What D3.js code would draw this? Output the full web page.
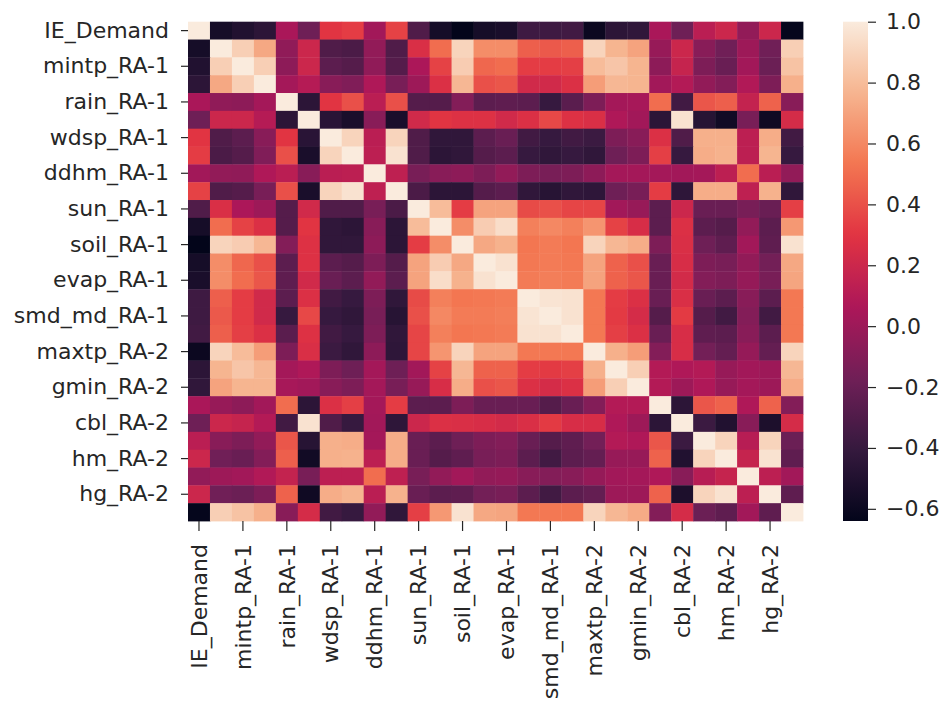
<!DOCTYPE html>
<html lang="en">
<head>
    <meta charset="UTF-8">
    <title>Correlation Heatmap</title>
    <style>
        body {
            margin: 0;
            background-color: #fff;
        }

        svg {
            display: block;
        }

        .tick text {
            font-family: "DejaVu Sans", sans-serif;
            font-size: 22px;
            fill: #262626;
        }

        .tick line {
            stroke: #262626;
            stroke-width: 1.2px;
        }
    </style>
</head>
<body>
    <svg id="chart" width="939" height="702"></svg>

    <script src="https://d3js.org/d3.v7.min.js"></script>
    <script>
        const labels = [
            "IE_Demand", "maxtp_RA-1", "mintp_RA-1", "gmin_RA-1", "rain_RA-1", "cbl_RA-1",
            "wdsp_RA-1", "hm_RA-1", "ddhm_RA-1", "hg_RA-1", "sun_RA-1", "glorad_RA-1",
            "soil_RA-1", "pe_RA-1", "evap_RA-1", "smd_wd_RA-1", "smd_md_RA-1", "smd_pd_RA-1",
            "maxtp_RA-2", "mintp_RA-2", "gmin_RA-2", "rain_RA-2", "cbl_RA-2", "wdsp_RA-2",
            "hm_RA-2", "ddhm_RA-2", "hg_RA-2", "soil_RA-2"
        ];

        // correlation matrix, rows/cols in the order of labels
        const corr = [
            [1.00, -0.55, -0.50, -0.45, 0.05, -0.18, 0.30, 0.33, 0.02, 0.35, -0.30, -0.55, -0.64, -0.55, -0.53, -0.37, -0.37, -0.36, -0.60, -0.45, -0.43, 0.05, -0.18, 0.12, 0.20, -0.04, 0.20, -0.63],
            [-0.55, 1.00, 0.88, 0.72, -0.05, 0.20, -0.30, -0.32, -0.04, -0.30, 0.26, 0.50, 0.90, 0.62, 0.62, 0.45, 0.43, 0.45, 0.90, 0.77, 0.70, -0.02, 0.20, -0.08, -0.17, 0.00, -0.17, 0.88],
            [-0.50, 0.88, 1.00, 0.88, -0.06, 0.20, -0.25, -0.28, -0.05, -0.28, 0.06, 0.35, 0.87, 0.48, 0.50, 0.33, 0.33, 0.34, 0.80, 0.84, 0.77, -0.06, 0.17, -0.12, -0.20, 0.02, -0.19, 0.83],
            [-0.45, 0.72, 0.88, 1.00, 0.03, 0.10, -0.08, -0.11, 0.07, -0.14, 0.00, 0.27, 0.78, 0.40, 0.42, 0.22, 0.22, 0.27, 0.68, 0.78, 0.77, 0.02, 0.09, -0.04, -0.10, 0.08, -0.12, 0.75],
            [0.05, -0.05, -0.06, 0.03, 1.00, -0.45, 0.30, 0.40, 0.12, 0.40, -0.28, -0.28, -0.10, -0.25, -0.24, -0.25, -0.40, -0.26, -0.12, 0.03, 0.04, 0.50, -0.36, 0.42, 0.45, 0.16, 0.46, -0.08],
            [-0.18, 0.20, 0.20, 0.10, -0.45, 1.00, -0.46, -0.53, -0.08, -0.53, 0.22, 0.30, 0.28, 0.28, 0.22, 0.27, 0.37, 0.28, 0.26, 0.07, 0.02, -0.45, 0.96, -0.47, -0.57, -0.14, -0.58, 0.24],
            [0.30, -0.30, -0.25, -0.08, 0.30, -0.46, 1.00, 0.90, 0.12, 0.90, -0.30, -0.43, -0.43, -0.25, -0.20, -0.36, -0.40, -0.36, -0.38, -0.12, -0.08, 0.27, -0.30, 0.75, 0.75, 0.13, 0.74, -0.36],
            [0.33, -0.32, -0.28, -0.11, 0.40, -0.53, 0.90, 1.00, 0.13, 0.96, -0.30, -0.45, -0.43, -0.28, -0.25, -0.40, -0.43, -0.40, -0.43, -0.18, -0.12, 0.34, -0.40, 0.74, 0.76, 0.13, 0.77, -0.40],
            [0.02, -0.04, -0.05, 0.07, 0.12, -0.08, 0.12, 0.13, 1.00, 0.14, -0.14, -0.08, -0.06, -0.12, -0.04, -0.12, -0.14, -0.12, -0.06, 0.03, 0.03, 0.03, 0.02, 0.03, 0.13, 0.50, 0.12, -0.04],
            [0.35, -0.30, -0.28, -0.14, 0.40, -0.53, 0.90, 0.96, 0.14, 1.00, -0.32, -0.45, -0.45, -0.28, -0.25, -0.43, -0.47, -0.43, -0.44, -0.18, -0.14, 0.33, -0.44, 0.74, 0.74, 0.14, 0.76, -0.43],
            [-0.30, 0.26, 0.06, 0.00, -0.28, 0.22, -0.30, -0.30, -0.14, -0.32, 1.00, 0.80, 0.33, 0.70, 0.70, 0.38, 0.40, 0.36, 0.36, 0.02, -0.02, -0.25, 0.20, -0.20, -0.20, -0.14, -0.20, 0.34],
            [-0.55, 0.50, 0.35, 0.27, -0.28, 0.30, -0.43, -0.45, -0.08, -0.45, 0.80, 1.00, 0.62, 0.87, 0.94, 0.57, 0.60, 0.57, 0.65, 0.35, 0.25, -0.25, 0.27, -0.25, -0.28, -0.04, -0.25, 0.66],
            [-0.64, 0.90, 0.87, 0.78, -0.10, 0.28, -0.43, -0.43, -0.06, -0.45, 0.33, 0.62, 1.00, 0.72, 0.76, 0.53, 0.55, 0.53, 0.90, 0.78, 0.74, -0.12, 0.26, -0.18, -0.24, 0.02, -0.24, 0.96],
            [-0.55, 0.62, 0.48, 0.40, -0.25, 0.28, -0.25, -0.28, -0.12, -0.28, 0.70, 0.87, 0.72, 1.00, 0.96, 0.54, 0.55, 0.54, 0.70, 0.46, 0.40, -0.20, 0.25, -0.12, -0.14, -0.04, -0.16, 0.72],
            [-0.53, 0.62, 0.50, 0.42, -0.24, 0.22, -0.20, -0.25, -0.04, -0.25, 0.70, 0.94, 0.76, 0.96, 1.00, 0.55, 0.56, 0.55, 0.70, 0.46, 0.42, -0.20, 0.23, -0.10, -0.12, -0.03, -0.14, 0.71],
            [-0.37, 0.45, 0.33, 0.22, -0.25, 0.27, -0.36, -0.40, -0.12, -0.43, 0.38, 0.57, 0.53, 0.54, 0.55, 1.00, 0.97, 0.96, 0.54, 0.33, 0.27, -0.20, 0.26, -0.20, -0.25, -0.08, -0.25, 0.54],
            [-0.37, 0.43, 0.33, 0.22, -0.40, 0.37, -0.40, -0.43, -0.14, -0.47, 0.40, 0.60, 0.55, 0.55, 0.56, 0.97, 1.00, 0.96, 0.54, 0.32, 0.24, -0.28, 0.32, -0.28, -0.36, -0.10, -0.36, 0.54],
            [-0.36, 0.45, 0.34, 0.27, -0.26, 0.28, -0.36, -0.40, -0.12, -0.43, 0.36, 0.57, 0.53, 0.54, 0.55, 0.96, 0.96, 1.00, 0.54, 0.34, 0.27, -0.20, 0.25, -0.24, -0.25, -0.08, -0.25, 0.54],
            [-0.60, 0.90, 0.80, 0.68, -0.12, 0.26, -0.38, -0.43, -0.06, -0.44, 0.36, 0.65, 0.90, 0.70, 0.70, 0.54, 0.54, 0.54, 1.00, 0.75, 0.68, -0.10, 0.25, -0.16, -0.22, -0.03, -0.22, 0.90],
            [-0.45, 0.77, 0.84, 0.78, 0.03, 0.07, -0.12, -0.18, 0.03, -0.18, 0.02, 0.35, 0.78, 0.46, 0.46, 0.33, 0.32, 0.34, 0.75, 1.00, 0.88, 0.09, 0.07, 0.09, -0.02, 0.02, 0.00, 0.78],
            [-0.43, 0.70, 0.77, 0.77, 0.04, 0.02, -0.08, -0.12, 0.03, -0.14, -0.02, 0.25, 0.74, 0.40, 0.42, 0.27, 0.24, 0.27, 0.68, 0.88, 1.00, 0.09, 0.00, 0.07, -0.02, 0.03, 0.00, 0.73],
            [0.05, -0.02, -0.06, 0.02, 0.50, -0.45, 0.27, 0.34, 0.03, 0.33, -0.25, -0.25, -0.12, -0.20, -0.20, -0.20, -0.28, -0.20, -0.10, 0.09, 0.09, 1.00, -0.45, 0.42, 0.46, 0.07, 0.46, -0.10],
            [-0.18, 0.20, 0.17, 0.09, -0.36, 0.96, -0.30, -0.40, 0.02, -0.44, 0.20, 0.27, 0.26, 0.25, 0.23, 0.26, 0.32, 0.25, 0.25, 0.07, 0.00, -0.45, 1.00, -0.38, -0.50, -0.08, -0.52, 0.24],
            [0.12, -0.08, -0.12, -0.04, 0.42, -0.47, 0.75, 0.74, 0.03, 0.74, -0.20, -0.25, -0.18, -0.12, -0.10, -0.20, -0.28, -0.24, -0.16, 0.09, 0.07, 0.42, -0.38, 1.00, 0.90, 0.11, 0.90, -0.19],
            [0.20, -0.17, -0.20, -0.10, 0.45, -0.57, 0.75, 0.76, 0.13, 0.74, -0.20, -0.28, -0.24, -0.14, -0.12, -0.25, -0.36, -0.25, -0.22, -0.02, -0.02, 0.46, -0.50, 0.90, 1.00, 0.17, 0.96, -0.24],
            [-0.04, 0.00, 0.02, 0.08, 0.16, -0.14, 0.13, 0.13, 0.50, 0.14, -0.14, -0.04, 0.02, -0.04, -0.03, -0.08, -0.10, -0.08, -0.03, 0.02, 0.03, 0.07, -0.08, 0.11, 0.17, 1.00, 0.13, 0.02],
            [0.20, -0.17, -0.19, -0.12, 0.46, -0.58, 0.74, 0.77, 0.12, 0.76, -0.20, -0.25, -0.24, -0.16, -0.14, -0.25, -0.36, -0.25, -0.22, 0.00, 0.00, 0.46, -0.52, 0.90, 0.96, 0.13, 1.00, -0.24],
            [-0.63, 0.88, 0.83, 0.75, -0.08, 0.24, -0.36, -0.40, -0.04, -0.43, 0.34, 0.66, 0.96, 0.72, 0.71, 0.54, 0.54, 0.54, 0.90, 0.78, 0.73, -0.10, 0.24, -0.19, -0.24, 0.02, -0.24, 1.00]
        ];

        const cbarTicks = [-0.6, -0.4, -0.2, 0.0, 0.2, 0.4, 0.6, 0.8, 1.0];

        // seaborn "rocket" colormap key colours (0 -> 1)
        const rocketStops = ["#03051a", "#35193e", "#701f57", "#ad1759", "#e13342", "#f37651", "#f6b48f", "#faebdd"];

        const svg = d3.select("#chart");
        const n = labels.length;
        const idx = d3.range(n);

        const plotLeft = 188, plotRight = 803, plotTop = 21.7, plotBottom = 521;

        const x = d3.scaleBand().domain(idx).range([plotLeft, plotRight]);
        const y = d3.scaleBand().domain(idx).range([plotTop, plotBottom]);

        const flat = corr.flat();
        const vmin = d3.min(flat), vmax = d3.max(flat);

        const rocket = d3.scaleLinear()
            .domain(rocketStops.map((c, i) => i / (rocketStops.length - 1)))
            .range(rocketStops)
            .interpolate(d3.interpolateRgb);
        const color = v => rocket((v - vmin) / (vmax - vmin));

        // cells
        const cells = [];
        corr.forEach((row, i) => row.forEach((v, j) => cells.push({ i, j, v })));

        svg.append("g")
            .selectAll("rect")
            .data(cells)
            .enter().append("rect")
            .attr("x", d => x(d.j))
            .attr("y", d => y(d.i))
            .attr("width", x.bandwidth() + 0.4)
            .attr("height", y.bandwidth() + 0.4)
            .attr("fill", d => color(d.v));

        const shown = idx.filter(i => i % 2 === 0);

        // y axis
        const yAxis = svg.append("g")
            .attr("transform", `translate(${plotLeft},0)`)
            .call(d3.axisLeft(y).tickValues(shown).tickFormat(i => labels[i]).tickSize(7).tickPadding(12));
        yAxis.select(".domain").remove();

        // x axis, labels rotated
        const xAxis = svg.append("g")
            .attr("transform", `translate(0,${plotBottom})`)
            .call(d3.axisBottom(x).tickValues(shown).tickFormat(i => labels[i]).tickSize(10));
        xAxis.select(".domain").remove();
        xAxis.selectAll(".tick text")
            .attr("transform", "rotate(-90)")
            .attr("x", -23)
            .attr("y", 0)
            .attr("dy", "0.35em")
            .style("text-anchor", "end");

        // colorbar
        const cbX = 843, cbW = 25;
        const cbScale = d3.scaleLinear().domain([vmin, vmax]).range([plotBottom, plotTop]);

        const grad = svg.append("defs").append("linearGradient")
            .attr("id", "cbar")
            .attr("x1", 0).attr("y1", 1).attr("x2", 0).attr("y2", 0);
        d3.range(0, 1.0001, 0.02).forEach(t => {
            grad.append("stop")
                .attr("offset", t)
                .attr("stop-color", rocket(t));
        });

        svg.append("rect")
            .attr("x", cbX)
            .attr("y", plotTop)
            .attr("width", cbW)
            .attr("height", plotBottom - plotTop)
            .attr("fill", "url(#cbar)");

        const cAxis = svg.append("g")
            .attr("transform", `translate(${cbX + cbW},0)`)
            .call(d3.axisRight(cbScale).tickValues(cbarTicks).tickFormat(d3.format(".1f")).tickSize(8).tickPadding(10));
        cAxis.select(".domain").remove();
    </script>
</body>
</html>
